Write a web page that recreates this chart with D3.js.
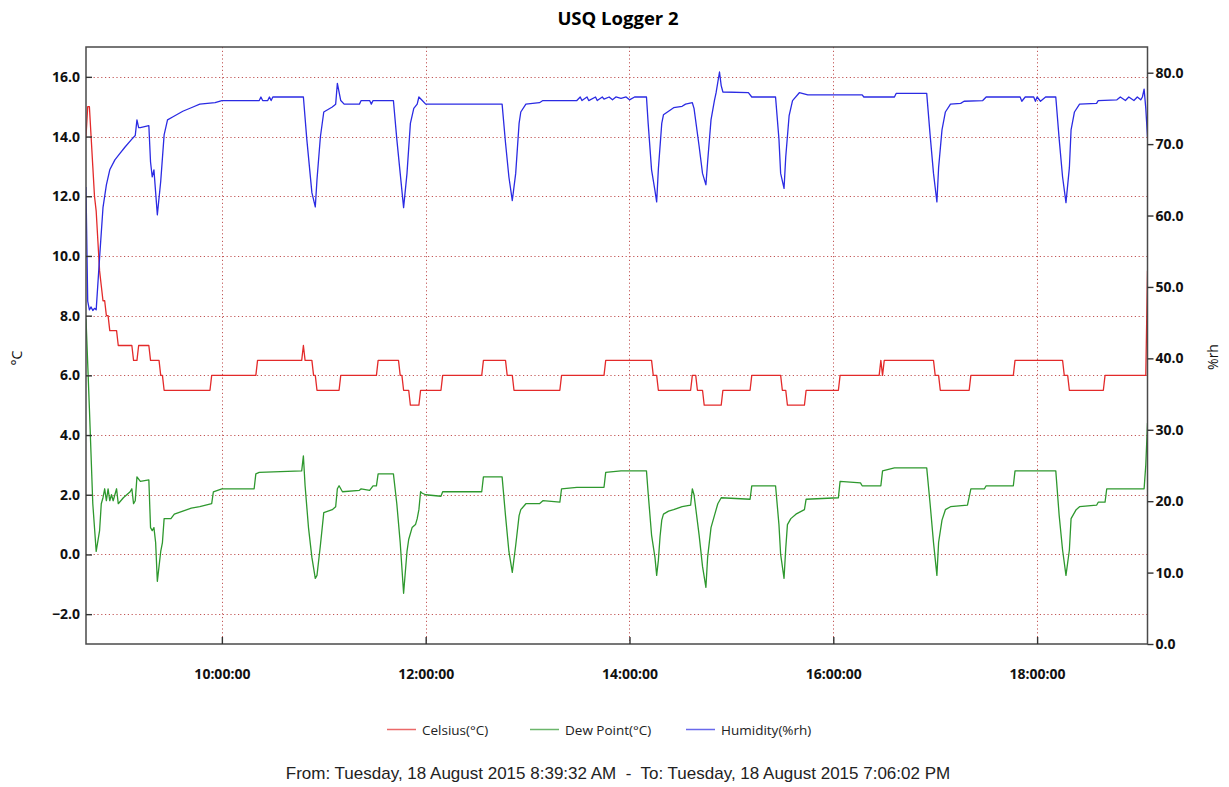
<!DOCTYPE html>
<html>
<head>
<meta charset="utf-8">
<script src="https://cdn.jsdelivr.net/npm/d3@7"></script>
<style>
  html, body { margin: 0; padding: 0; background: #fff; }
  svg { display: block; }
</style>
</head>
<body>
<svg id="chart" width="1229" height="787"></svg>
<script>
// Logger readings: [time of day, value]
const celsius = [
  ["08:40",14.0],["08:41",15.0],["08:42",15.0],["08:43",14.0],["08:44",13.0],["08:45",12.0],
  ["08:46",11.5],["08:47",10.5],["08:48",9.5],["08:49",9.0],["08:50",8.5],["08:51",8.5],
  ["08:52",8.0],["08:53",8.0],["08:54",7.5],["08:58",7.5],["08:59",7.0],["09:07",7.0],
  ["09:08",6.5],["09:10",6.5],["09:11",7.0],["09:17",7.0],["09:18",6.5],["09:23",6.5],
  ["09:24",6.0],["09:25",6.0],["09:26",5.5],["09:53",5.5],["09:54",6.0],["10:20",6.0],
  ["10:21",6.5],["10:47",6.5],["10:48",7.0],["10:49",6.5],["10:53",6.5],["10:54",6.0],
  ["10:55",6.0],["10:56",5.5],["11:09",5.5],["11:10",6.0],["11:31",6.0],["11:32",6.5],
  ["11:44",6.5],["11:45",6.0],["11:46",6.0],["11:47",5.5],["11:50",5.5],["11:51",5.0],
  ["11:56",5.0],["11:57",5.5],["12:09",5.5],["12:10",6.0],["12:33",6.0],["12:34",6.5],
  ["12:47",6.5],["12:48",6.0],["12:51",6.0],["12:52",5.5],["13:19",5.5],["13:20",6.0],
  ["13:45",6.0],["13:46",6.5],["14:13",6.5],["14:14",6.0],["14:16",6.0],["14:17",5.5],
  ["14:36",5.5],["14:37",6.0],["14:39",6.0],["14:40",5.5],["14:43",5.5],["14:44",5.0],
  ["14:54",5.0],["14:55",5.5],["15:11",5.5],["15:12",6.0],["15:29",6.0],["15:30",5.5],
  ["15:32",5.5],["15:33",5.0],["15:43",5.0],["15:44",5.5],["16:03",5.5],["16:04",6.0],
  ["16:27",6.0],["16:28",6.5],["16:29",6.0],["16:30",6.5],["16:59",6.5],["17:00",6.0],
  ["17:02",6.0],["17:03",5.5],["17:20",5.5],["17:21",6.0],["17:46",6.0],["17:47",6.5],
  ["18:15",6.5],["18:16",6.0],["18:18",6.0],["18:19",5.5],["18:39",5.5],["18:40",6.0],
  ["19:04",6.0],["19:05",9.5]
];

const dewPoint = [
  ["08:40",7.9],["08:42",4.9],["08:44",1.7],["08:46",0.1],["08:48",0.8],["08:49",1.7],
  ["08:50",1.9],["08:51",2.2],["08:52",1.8],["08:53",2.2],["08:54",1.8],["08:55",2.0],
  ["08:56",1.8],["08:58",2.2],["08:59",1.7],["09:02",1.9],["09:06",2.1],["09:07",2.2],
  ["09:08",1.7],["09:09",1.8],["09:10",2.6],["09:12",2.45],["09:17",2.5],["09:18",0.9],
  ["09:19",0.8],["09:20",0.9],["09:21",0.4],["09:22",-0.9],["09:24",0.1],["09:25",0.4],
  ["09:26",1.2],["09:30",1.2],["09:32",1.35],["09:37",1.45],["09:42",1.55],["09:47",1.6],
  ["09:54",1.7],["09:55",2.1],["10:00",2.2],["10:19",2.2],["10:20",2.7],["10:22",2.75],
  ["10:47",2.8],["10:48",3.3],["10:49",2.3],["10:51",0.9],["10:53",-0.1],["10:55",-0.8],
  ["10:56",-0.7],["10:58",0.3],["11:00",1.4],["11:05",1.5],["11:07",1.6],["11:08",2.2],
  ["11:09",2.3],["11:11",2.1],["11:21",2.15],["11:22",2.2],["11:27",2.15],["11:29",2.3],
  ["11:31",2.3],["11:32",2.7],["11:41",2.7],["11:43",1.7],["11:45",0.4],["11:47",-1.3],
  ["11:49",0.1],["11:50",0.5],["11:52",0.9],["11:54",1.0],["11:55",1.2],["11:56",1.5],
  ["11:57",2.1],["11:58",2.05],["12:00",2.0],["12:09",1.95],["12:10",2.1],["12:33",2.1],
  ["12:34",2.6],["12:45",2.6],["12:47",1.3],["12:49",0.1],["12:51",-0.6],["12:53",0.3],
  ["12:55",1.3],["12:56",1.5],["12:59",1.7],["13:07",1.7],["13:09",1.8],["13:19",1.75],
  ["13:20",2.2],["13:29",2.25],["13:45",2.25],["13:46",2.75],["13:55",2.8],["14:10",2.8],
  ["14:11",2.05],["14:13",0.65],["14:15",-0.1],["14:16",-0.7],["14:17",-0.2],["14:18",0.6],
  ["14:19",1.15],["14:20",1.35],["14:23",1.45],["14:26",1.5],["14:31",1.6],["14:36",1.65],
  ["14:37",2.2],["14:38",2.0],["14:41",0.65],["14:43",-0.4],["14:45",-1.1],["14:46",-0.1],
  ["14:48",0.9],["14:50",1.3],["14:52",1.7],["14:54",1.9],["15:11",1.85],["15:12",2.3],
  ["15:26",2.3],["15:28",1.0],["15:29",0.0],["15:31",-0.8],["15:32",0.2],["15:33",1.0],
  ["15:35",1.2],["15:38",1.35],["15:43",1.5],["15:44",1.85],["16:03",1.9],["16:04",2.45],
  ["16:16",2.4],["16:17",2.3],["16:28",2.3],["16:29",2.8],["16:36",2.9],["16:55",2.9],
  ["16:57",1.7],["16:59",0.4],["17:01",-0.7],["17:02",0.4],["17:04",1.15],["17:06",1.5],
  ["17:09",1.6],["17:19",1.65],["17:21",2.2],["17:29",2.2],["17:30",2.3],["17:46",2.3],
  ["17:47",2.8],["18:11",2.8],["18:13",1.3],["18:15",0.15],["18:17",-0.7],["18:19",0.15],
  ["18:20",1.2],["18:23",1.5],["18:25",1.6],["18:35",1.65],["18:36",1.75],["18:40",1.75],
  ["18:41",2.2],["19:03",2.2],["19:04",3.0],["19:05",4.4]
];

const humidity = [
  ["08:40",64.0],["08:41",48.0],["08:42",46.8],["08:43",47.2],["08:44",46.7],["08:45",47.0],
  ["08:46",46.8],["08:48",54.1],["08:50",61.1],["08:52",64.3],["08:54",66.4],["08:57",67.8],
  ["09:00",68.7],["09:03",69.6],["09:07",70.7],["09:09",71.2],["09:10",73.4],["09:11",72.3],
  ["09:12",72.3],["09:17",72.6],["09:18",67.5],["09:19",65.4],["09:20",66.4],["09:22",60.1],
  ["09:24",64.8],["09:26",71.3],["09:28",73.4],["09:31",73.8],["09:37",74.6],["09:43",75.2],
  ["09:47",75.6],["09:56",75.8],["10:00",76.1],["10:22",76.1],["10:23",76.6],["10:24",76.1],
  ["10:27",76.1],["10:28",76.6],["10:29",76.1],["10:30",76.6],["10:48",76.6],["10:50",70.7],
  ["10:53",63.2],["10:55",61.2],["10:56",65.0],["10:58",71.0],["11:00",74.5],["11:05",75.2],
  ["11:07",75.6],["11:08",78.5],["11:10",76.1],["11:12",75.6],["11:21",75.6],["11:22",76.1],
  ["11:27",76.1],["11:28",75.6],["11:29",76.1],["11:41",76.1],["11:43",70.7],["11:45",65.9],
  ["11:47",61.1],["11:49",65.9],["11:51",72.9],["11:53",75.0],["11:55",75.6],["11:56",76.6],
  ["11:58",76.1],["12:00",75.6],["12:45",75.6],["12:47",70.2],["12:49",65.4],["12:51",62.1],
  ["12:53",65.9],["12:55",72.9],["12:56",74.5],["12:59",75.6],["13:07",75.8],["13:09",76.1],
  ["13:29",76.1],["13:31",76.6],["13:32",76.1],["13:35",76.6],["13:36",76.1],["13:40",76.6],
  ["13:41",76.1],["13:44",76.6],["13:45",76.3],["13:48",76.6],["13:50",76.2],["13:52",76.6],
  ["13:55",76.4],["13:58",76.6],["14:00",76.2],["14:03",76.6],["14:10",76.6],["14:11",72.9],
  ["14:13",66.4],["14:15",63.5],["14:16",61.9],["14:17",66.5],["14:19",72.9],["14:20",74.1],
  ["14:23",74.6],["14:26",75.1],["14:31",75.3],["14:33",75.6],["14:37",75.8],["14:38",75.0],
  ["14:41",69.7],["14:43",65.9],["14:45",64.3],["14:46",67.5],["14:48",73.4],["14:50",76.1],
  ["14:51",77.2],["14:53",80.1],["14:54",78.2],["14:55",77.3],["15:10",77.2],["15:12",76.6],
  ["15:26",76.6],["15:28",70.7],["15:29",65.9],["15:31",63.8],["15:32",68.2],["15:34",74.0],
  ["15:36",76.1],["15:40",77.2],["15:45",76.9],["16:17",76.9],["16:18",76.6],["16:36",76.6],
  ["16:37",77.1],["16:55",77.1],["16:57",71.3],["16:59",65.9],["17:01",61.9],["17:02",66.7],
  ["17:04",72.0],["17:06",74.5],["17:09",75.6],["17:15",75.7],["17:17",76.0],["17:28",76.1],
  ["17:30",76.6],["17:50",76.6],["17:51",76.0],["17:53",76.6],["17:58",76.6],["17:59",76.0],
  ["18:00",76.6],["18:02",76.0],["18:05",76.6],["18:11",76.6],["18:13",70.7],["18:15",65.4],
  ["18:17",61.8],["18:19",66.7],["18:20",72.0],["18:22",74.5],["18:25",75.6],["18:35",75.7],
  ["18:36",76.1],["18:47",76.2],["18:49",76.6],["18:52",76.1],["18:54",76.6],["18:57",76.1],
  ["18:59",76.6],["19:01",76.2],["19:02",76.6],["19:03",77.7],["19:04",75.0],["19:05",71.0]
];

const leftTicks = [-2, 0, 2, 4, 6, 8, 10, 12, 14, 16];
const rightTicks = [0, 10, 20, 30, 40, 50, 60, 70, 80];
const timeRange = ["08:40", "19:05"];
const tempDomain = [-3, 17];
const humDomain = [0, 83.6];

const titleText = "USQ Logger 2";
const leftLabel = "°C";
const rightLabel = "%rh";
const footerText = "From: Tuesday, 18 August 2015 8:39:32 AM  -  To: Tuesday, 18 August 2015 7:06:02 PM";

const series = [
  { name: "Celsius(°C)",    data: celsius,  axis: "left",  color: "#e32a2a" },
  { name: "Dew Point(°C)",  data: dewPoint, axis: "left",  color: "#2e982e" },
  { name: "Humidity(%rh)",  data: humidity, axis: "right", color: "#2b2be3" }
];

// ---- layout ----
const svg = d3.select("#chart");
const plot = { left: 86, right: 1147.5, top: 47, bottom: 644 };
const parseTime = d3.timeParse("%H:%M");

const x = d3.scaleTime()
  .domain(timeRange.map(parseTime))
  .range([plot.left, plot.right]);
const yL = d3.scaleLinear().domain(tempDomain).range([plot.bottom, plot.top]);
const yR = d3.scaleLinear().domain(humDomain).range([plot.bottom, plot.top]);

const uiFont = "'Open Sans', 'Noto Sans', sans-serif";

// title
svg.append("text")
  .attr("x", 618).attr("y", 25)
  .attr("text-anchor", "middle")
  .attr("font-family", uiFont)
  .attr("font-weight", "bold")
  .attr("font-size", 18.5)
  .attr("fill", "#000")
  .text(titleText);

// grid
const grid = svg.append("g").attr("stroke", "#b83a3a").attr("stroke-width", 1)
  .attr("stroke-dasharray", "1.2,2.6").attr("opacity", 0.85);
grid.selectAll("line.h").data(leftTicks).join("line")
  .attr("class", "h")
  .attr("x1", plot.left).attr("x2", plot.right)
  .attr("y1", d => Math.round(yL(d)) + 0.5).attr("y2", d => Math.round(yL(d)) + 0.5);
const hourTicks = x.ticks(d3.timeHour.every(2));
grid.selectAll("line.v").data(hourTicks).join("line")
  .attr("class", "v")
  .attr("y1", plot.top).attr("y2", plot.bottom)
  .attr("x1", d => Math.round(x(d)) + 0.5).attr("x2", d => Math.round(x(d)) + 0.5);

// series lines
svg.append("clipPath").attr("id", "plotClip")
  .append("rect")
  .attr("x", plot.left).attr("y", plot.top)
  .attr("width", plot.right - plot.left).attr("height", plot.bottom - plot.top);

const linesG = svg.append("g").attr("clip-path", "url(#plotClip)");
series.forEach(s => {
  const yScale = s.axis === "left" ? yL : yR;
  const line = d3.line()
    .x(d => x(parseTime(d[0])))
    .y(d => yScale(d[1]));
  linesG.append("path")
    .datum(s.data)
    .attr("fill", "none")
    .attr("stroke", s.color)
    .attr("stroke-width", 1.3)
    .attr("stroke-linejoin", "round")
    .attr("d", line);
});

// frame
svg.append("rect")
  .attr("x", plot.left).attr("y", plot.top)
  .attr("width", plot.right - plot.left).attr("height", plot.bottom - plot.top)
  .attr("fill", "none").attr("stroke", "#4a4a4a").attr("stroke-width", 1.5);

// axes
const fmt1 = d3.format(".1f");
const leftAxis = d3.axisLeft(yL).tickValues(leftTicks).tickFormat(fmt1)
  .tickSizeInner(-6).tickSizeOuter(0).tickPadding(12);
const gL = svg.append("g").attr("transform", `translate(${plot.left},0)`).call(leftAxis);

const rightAxis = d3.axisRight(yR).tickValues(rightTicks).tickFormat(fmt1)
  .tickSizeInner(6).tickSizeOuter(0).tickPadding(2);
const gR = svg.append("g").attr("transform", `translate(${plot.right},0)`).call(rightAxis);

const bottomAxis = d3.axisBottom(x).ticks(d3.timeHour.every(2))
  .tickFormat(d3.timeFormat("%H:%M:%S"))
  .tickSizeInner(-7).tickSizeOuter(0).tickPadding(25);
const gB = svg.append("g").attr("transform", `translate(0,${plot.bottom})`).call(bottomAxis);

[gL, gR, gB].forEach(g => {
  g.select(".domain").remove();
  g.selectAll(".tick line").attr("stroke", "#333").attr("stroke-width", 1.4);
  g.selectAll(".tick text")
    .attr("font-family", uiFont)
    .attr("font-weight", "bold")
    .attr("font-size", 14)
    .attr("fill", "#111");
});
gL.selectAll(".tick text").attr("x", -6);

// axis titles
svg.append("text")
  .attr("transform", "translate(22,358) rotate(-90)")
  .attr("text-anchor", "middle")
  .attr("font-family", uiFont)
  .attr("font-size", 14)
  .attr("fill", "#111")
  .text(leftLabel);
svg.append("text")
  .attr("transform", "translate(1218,357) rotate(-90)")
  .attr("text-anchor", "middle")
  .attr("font-family", uiFont)
  .attr("font-size", 14)
  .attr("fill", "#111")
  .text(rightLabel);

// legend
const legendX = [387, 530, 686];
const legend = svg.append("g");
series.forEach((s, i) => {
  const gx = legendX[i];
  legend.append("line")
    .attr("x1", gx).attr("x2", gx + 29)
    .attr("y1", 729.5).attr("y2", 729.5)
    .attr("stroke", s.color).attr("stroke-width", 1.5).attr("opacity", 0.7);
  legend.append("text")
    .attr("x", gx + 35).attr("y", 734.5)
    .attr("font-family", uiFont)
    .attr("font-size", 13.5)
    .attr("fill", "#222")
    .text(s.name);
});

// footer
svg.append("text")
  .attr("x", 618).attr("y", 779)
  .attr("text-anchor", "middle")
  .attr("font-family", "'Liberation Sans', Arial, sans-serif")
  .attr("font-size", 17)
  .attr("fill", "#222")
  .style("white-space", "pre")
  .text(footerText);
</script>
</body>
</html>
